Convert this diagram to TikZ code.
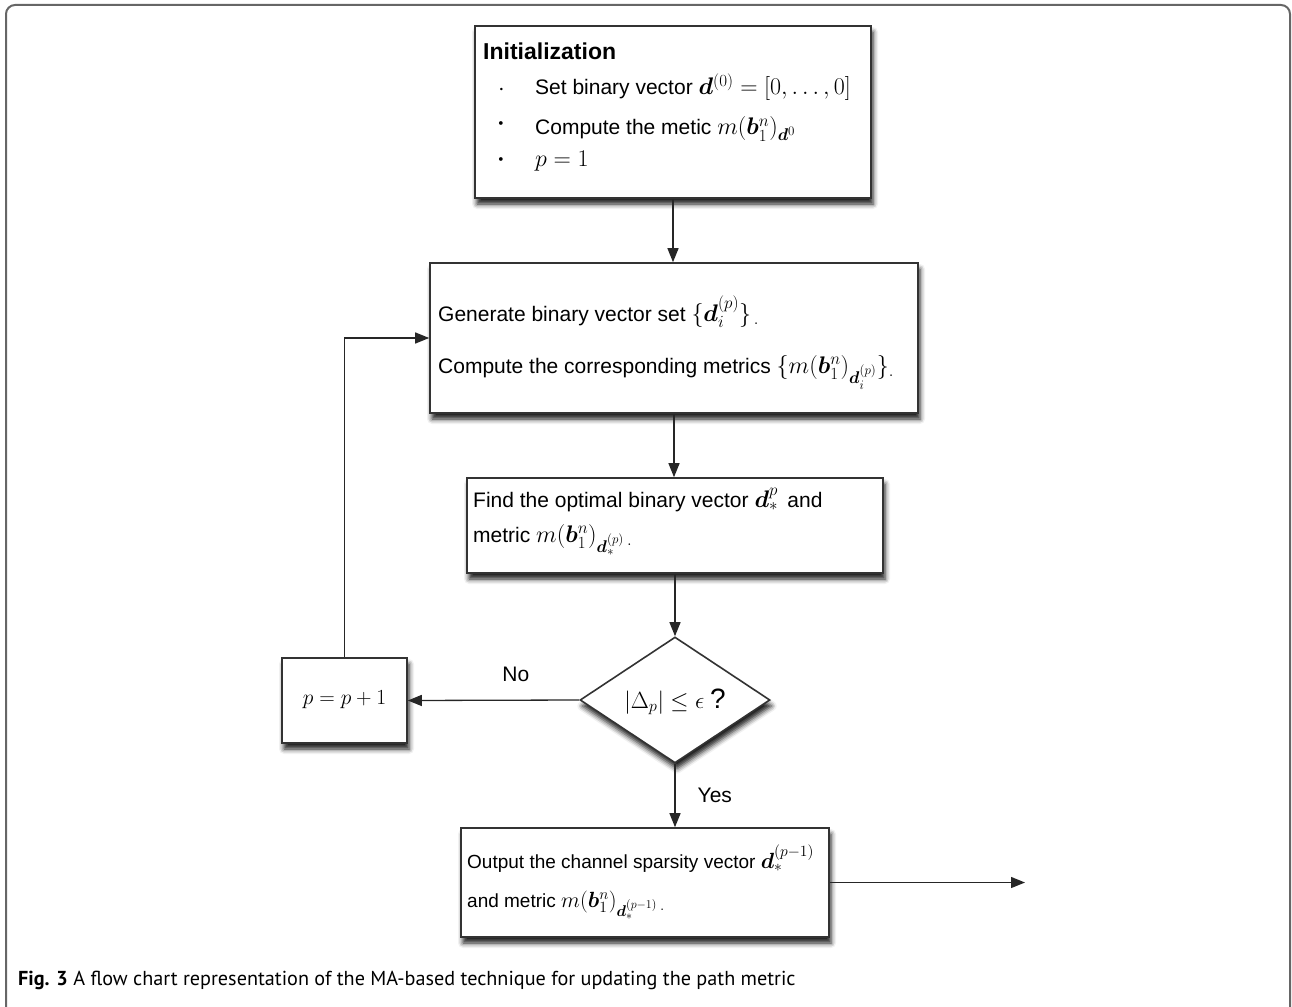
\RequirePackage{fix-cm}
\documentclass[tikz,border=0pt]{standalone}
\usepackage{amsmath,bm}
\usepackage{fontspec}
\setmainfont{Liberation Sans}
\newfontfamily\capfont{PT Sans}
\DeclareMathSizes{21}{24}{17}{13}
\DeclareMathSizes{19}{22}{15.6}{12}
\DeclareMathSizes{18.5}{21.5}{15}{10.8}
\DeclareMathSizes{20}{23.4}{16.4}{11.7}
\usetikzlibrary{shapes.geometric,arrows.meta,shadows.blur}
\tikzset{
  boxstyle/.style={draw=black!80, line width=1.6pt, fill=white, rectangle, inner sep=0pt,
    blur shadow={shadow xshift=2pt, shadow yshift=-6pt, shadow blur radius=5pt, shadow opacity=90}},
  txt/.style={anchor=base west, inner sep=0pt, font=\fontsize{21}{25}\selectfont},
  txtb/.style={anchor=base west, inner sep=0pt, font=\fontsize{19}{23}\selectfont},
  conn/.style={draw=black!85, line width=1.3pt, -{Triangle[length=14pt,width=11pt]}},
}
\begin{document}
\begin{tikzpicture}[x=1pt,y=-1pt]
\useasboundingbox (0,0) rectangle (1292,1006);
% outer frame
\draw[black!60, line width=2pt, rounded corners=9pt] (6,1020) -- (6,5) -- (1290,5) -- (1290,1020);

% boxes
\node[boxstyle, minimum width=396pt, minimum height=172pt] (init) at (673,112) {};
\node[boxstyle, minimum width=488pt, minimum height=150pt] (gen) at (674,338) {};
\node[boxstyle, minimum width=416pt, minimum height=95pt] (find) at (675,525.5) {};
\node[boxstyle, diamond, minimum width=190pt, minimum height=126pt] (dia) at (675,700) {};
\node[boxstyle, minimum width=125pt, minimum height=85pt] (inc) at (344.5,700.5) {};
\node[boxstyle, minimum width=368pt, minimum height=109pt] (out) at (645,882.5) {};

% init text
\node[txt, font=\fontsize{23}{27}\selectfont\bfseries] (t0) at (483,60) {Initialization};
\node[txt] (b1) at (498,96) {$\cdot$};
\node[txt] (b2) at (497,129) {$\bm{\cdot}$};
\node[txt] (b3) at (497,165) {$\bm{\cdot}$};
\node[txt] (t1) at (535,95) {Set binary vector $\bm{d}^{(0)}=[0,\ldots,0]$};
\node[txt] (t2) at (535,135) {Compute the metic $m(\bm{b}_1^n)_{\bm{d}^0}$};
\node[txt] (t3) at (535,166) {$p=1$};

% gen text
\node[txt] (g1) at (438,321) {Generate binary vector set $\{\bm{d}_i^{(p)}\}_{\,.}$};
\node[txt] (g2) at (438,373) {Compute the corresponding metrics $\{m(\bm{b}_1^n)_{\bm{d}_i^{(p)}}\}_{.}$};

% find text
\node[txt] (f1) at (473,507) {Find the optimal binary vector $\bm{d}_*^p$\, and};
\node[txt] (f2) at (473,542) {metric $m(\bm{b}_1^n)_{\bm{d}_*^{(p)}}{}_{\,.}$};

% diamond text
\node[inner sep=0pt, font=\fontsize{20}{24}\selectfont] (dt) at (675,702) {$|\Delta_p|\leq\epsilon$ {\fontsize{28}{30}\selectfont ?}};

% inc text
\node[inner sep=0pt, font=\fontsize{18.5}{22}\selectfont] (it) at (344.5,700) {$p=p+1$};

% output text
\node[txtb] (o1) at (467,868) {Output the channel sparsity vector $\bm{d}_*^{(p-1)}$};
\node[txtb] (o2) at (467,907) {and metric $m(\bm{b}_1^n)_{\bm{d}_*^{(p-1)}}{}_{\,.}$};

% connectors
\coordinate (endpt) at (1025,882.5);
\draw[conn] (init.south) -- (init.south |- gen.north);
\draw[conn] (gen.south) -- (gen.south |- find.north);
\draw[conn] (find.south) -- (find.south |- dia.north);
\draw[conn] (dia.south) -- node[right=22pt, pos=0.5, inner sep=0pt, font=\fontsize{21}{25}\selectfont] (yes) {Yes} (dia.south |- out.north);
\draw[conn] (dia.west) -- node[above=18pt, pos=0.37, inner sep=0pt, font=\fontsize{21}{25}\selectfont] (no) {No} (inc.east);
\draw[conn] (inc.north) |- (gen.west);
\draw[conn] (out.east) -- (endpt);

% caption
\node[anchor=base west, inner sep=0pt, font=\capfont\fontsize{20.2}{24}\selectfont] (cap) at (18,985) {\textbf{Fig. 3} A flow chart representation of the MA-based technique for updating the path metric};
\end{tikzpicture}
\end{document}
